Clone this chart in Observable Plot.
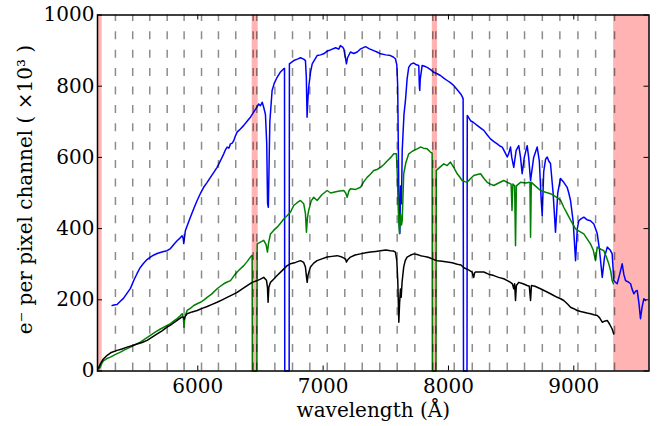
<!DOCTYPE html>
<html><head><meta charset="utf-8">
<script src="https://cdn.jsdelivr.net/npm/d3@7"></script>
<script src="https://cdn.jsdelivr.net/npm/@observablehq/plot@0.6"></script>
<style>body{margin:0;background:#fff}</style>
</head><body><div id="chart"></div>
<script>
const xTicks = [6000, 7000, 8000, 9000];
const yTicks = [0, 200, 400, 600, 800, 1000];
const xLabel = "wavelength (Å)";
const yLabel = "e⁻ per pixel channel ( ×10³ )";
const maskedBands = [[5200, 5237], [6434, 6482], [7871, 7913], [9318, 9600]];
const orderEdges = [5343, 5481, 5617, 5756, 5891, 6030, 6165, 6303, 6442, 6471, 6615, 6756, 6894, 7033, 7173, 7312, 7452, 7591, 7732, 7875, 7899, 8046, 8190, 8328, 8469, 8607, 8749, 8889, 9033, 9174, 9325];

const blue = [[5317,184],[5340,186],[5356,187],[5380,195],[5407,204],[5435,218],[5463,232],[5490,255],[5516,274],[5540,290],[5566,302],[5595,313],[5622,320],[5650,326],[5676,330],[5720,335],[5755,338],[5782,344],[5810,356],[5835,366],[5860,374],[5875,380],[5884,372],[5888,358],[5893,372],[5901,394],[5920,412],[5941,432],[5970,458],[5995,479],[6020,498],[6047,516],[6075,530],[6101,544],[6128,558],[6154,572],[6180,590],[6207,610],[6222,622],[6234,629],[6248,626],[6261,638],[6275,640],[6287,647],[6300,660],[6314,671],[6340,680],[6367,690],[6395,702],[6420,713],[6446,727],[6466,738],[6486,750],[6500,745],[6514,755],[6526,741],[6540,720],[6550,640],[6557,470],[6563,460],[6568,560],[6575,700],[6593,788],[6610,808],[6633,825],[6660,840],[6686,849],[6692,850],[6694,0],[6729,0],[6731,863],[6766,872],[6795,876],[6819,880],[6845,876],[6859,872],[6866,825],[6872,713],[6878,760],[6885,797],[6900,840],[6913,863],[6952,886],[6980,888],[7005,891],[7030,898],[7059,902],[7100,908],[7125,904],[7138,914],[7155,910],[7165,905],[7178,880],[7186,863],[7195,880],[7218,896],[7245,892],[7272,896],[7300,905],[7338,911],[7370,905],[7404,900],[7430,896],[7458,891],[7500,888],[7537,886],[7560,882],[7577,877],[7588,860],[7595,800],[7601,600],[7606,420],[7612,386],[7618,520],[7625,470],[7631,619],[7645,720],[7657,760],[7670,820],[7683,853],[7700,862],[7723,865],[7745,860],[7763,858],[7768,800],[7771,788],[7775,820],[7790,858],[7810,856],[7830,853],[7860,846],[7883,839],[7910,835],[7936,830],[7965,822],[7990,816],[8015,810],[8042,802],[8070,790],[8096,779],[8108,772],[8117,765],[8120,0],[8148,0],[8150,718],[8176,703],[8200,698],[8229,690],[8255,683],[8282,676],[8310,663],[8335,652],[8360,645],[8389,638],[8410,632],[8429,629],[8450,615],[8469,601],[8480,610],[8495,629],[8505,600],[8521,572],[8540,620],[8561,633],[8575,600],[8588,554],[8605,600],[8628,633],[8640,600],[8655,535],[8680,600],[8708,629],[8725,590],[8740,480],[8748,437],[8760,560],[8775,595],[8788,601],[8800,590],[8814,583],[8835,500],[8854,390],[8872,500],[8894,541],[8920,530],[8947,516],[8960,500],[8974,479],[8995,420],[9014,310],[9028,400],[9040,422],[9060,428],[9080,432],[9105,425],[9133,422],[9160,413],[9187,386],[9205,340],[9227,263],[9245,320],[9267,348],[9290,340],[9306,329],[9313,290],[9319,254],[9330,250],[9346,245],[9365,270],[9386,301],[9400,270],[9413,254],[9435,250],[9453,245],[9465,230],[9479,217],[9495,225],[9506,226],[9520,190],[9532,147],[9545,180],[9559,203],[9572,198]];

const green = [[5208,5],[5223,11],[5235,22],[5249,29],[5275,35],[5303,39],[5340,46],[5383,53],[5420,60],[5463,67],[5500,74],[5542,81],[5580,90],[5622,100],[5660,109],[5702,118],[5740,125],[5782,133],[5810,141],[5835,147],[5860,155],[5875,161],[5885,150],[5890,123],[5896,150],[5915,170],[5940,176],[5968,184],[5995,189],[6021,193],[6050,200],[6075,207],[6110,216],[6154,231],[6180,238],[6207,245],[6235,250],[6261,254],[6290,268],[6314,278],[6340,287],[6367,296],[6395,308],[6420,320],[6434,325],[6436,0],[6471,0],[6474,357],[6500,362],[6526,367],[6545,355],[6556,334],[6565,360],[6580,385],[6605,395],[6633,404],[6660,415],[6686,427],[6712,436],[6739,446],[6766,465],[6790,472],[6819,479],[6845,470],[6859,442],[6867,390],[6875,430],[6885,451],[6905,478],[6925,488],[6952,479],[6990,495],[7032,507],[7060,500],[7085,502],[7120,505],[7165,507],[7180,500],[7192,488],[7205,505],[7218,512],[7260,510],[7298,516],[7325,532],[7351,544],[7375,552],[7404,563],[7430,566],[7458,572],[7485,580],[7511,590],[7540,600],[7564,610],[7585,610],[7591,560],[7600,450],[7609,386],[7618,440],[7625,410],[7631,422],[7643,554],[7660,585],[7683,610],[7715,618],[7750,624],[7777,629],[7800,626],[7830,624],[7856,615],[7870,612],[7872,0],[7900,0],[7903,563],[7930,572],[7963,582],[7990,577],[8016,587],[8042,572],[8070,554],[8090,545],[8109,535],[8130,532],[8149,530],[8175,540],[8202,549],[8230,552],[8256,554],[8285,540],[8309,530],[8335,525],[8362,521],[8400,528],[8441,535],[8470,530],[8500,525],[8507,451],[8514,525],[8528,520],[8535,352],[8542,520],[8575,530],[8615,528],[8650,530],[8655,376],[8661,530],[8700,518],[8734,507],[8775,502],[8814,498],[8855,490],[8894,480],[8920,460],[8947,442],[8980,420],[9014,399],[9045,392],[9080,385],[9105,372],[9133,357],[9155,340],[9173,310],[9187,348],[9215,342],[9240,338],[9260,320],[9279,301],[9295,280],[9306,254],[9316,245]];

const black = [[5208,8],[5223,20],[5245,33],[5277,44],[5310,52],[5356,58],[5395,62],[5436,67],[5475,71],[5516,76],[5556,80],[5596,86],[5636,95],[5676,104],[5715,113],[5755,123],[5795,132],[5835,142],[5875,152],[5888,150],[5893,145],[5898,152],[5915,161],[5955,166],[5995,170],[6035,176],[6075,181],[6115,187],[6154,193],[6195,200],[6234,207],[6275,214],[6314,221],[6355,231],[6394,240],[6434,249],[6474,254],[6500,258],[6526,263],[6548,255],[6556,235],[6561,193],[6567,235],[6580,249],[6605,258],[6633,268],[6673,282],[6713,296],[6739,301],[6780,305],[6819,310],[6845,305],[6859,292],[6867,265],[6873,249],[6880,270],[6899,292],[6925,303],[6952,310],[6990,315],[7032,320],[7070,322],[7112,324],[7150,320],[7178,315],[7186,306],[7195,312],[7218,320],[7255,326],[7298,329],[7340,332],[7378,334],[7420,336],[7458,338],[7500,340],[7537,338],[7560,337],[7577,334],[7588,310],[7596,250],[7601,180],[7604,137],[7610,190],[7617,230],[7623,207],[7630,250],[7643,292],[7655,310],[7670,320],[7695,325],[7723,329],[7750,327],[7777,324],[7805,322],[7830,320],[7850,318],[7870,315],[7890,312],[7910,310],[7950,308],[7990,306],[8030,304],[8070,300],[8100,298],[8123,290],[8160,284],[8189,278],[8196,268],[8202,263],[8208,275],[8216,278],[8250,278],[8282,278],[8320,272],[8362,268],[8400,263],[8441,259],[8470,254],[8495,249],[8510,245],[8521,231],[8528,245],[8535,198],[8542,240],[8561,249],[8595,245],[8628,240],[8645,238],[8655,198],[8662,240],[8690,238],[8734,231],[8775,224],[8814,217],[8840,212],[8868,207],[8895,203],[8920,198],[8950,188],[8974,179],[9000,175],[9027,170],[9055,167],[9080,165],[9105,163],[9133,161],[9160,158],[9187,156],[9205,150],[9227,137],[9245,140],[9267,142],[9285,132],[9306,118],[9319,104]];

const W = 659, H = 426, mL = 97, mR = 10.5, mT = 14.5, mB = 55.5;
const innerW = W - mL - mR, innerH = H - mT - mB, tick = 5;
const font = "DejaVu Serif";

const chart = Plot.plot({
  width: W, height: H,
  marginLeft: mL, marginRight: mR, marginTop: mT, marginBottom: mB,
  style: {fontFamily: font, background: "white", color: "black"},
  x: {domain: [5200, 9600]},
  y: {domain: [0, 1000]},
  marks: [
    Plot.rect(maskedBands, {x1: d => d[0], x2: d => d[1], y1: 0, y2: 1000, fill: "#ffb3b3"}),
    Plot.line(blue, {x: d => d[0], y: d => d[1], stroke: "#0000ff", strokeWidth: 1.5}),
    Plot.line(green, {x: d => d[0], y: d => d[1], stroke: "#008000", strokeWidth: 1.5}),
    Plot.line(black, {x: d => d[0], y: d => d[1], stroke: "black", strokeWidth: 1.5}),
    Plot.ruleX(orderEdges, {x: d => d, y1: 0, y2: 1000, stroke: "black", strokeOpacity: 0.45, strokeWidth: 1.5, strokeDasharray: "8,10.4"}),
    Plot.frame({stroke: "black", strokeWidth: 1.5}),
    Plot.tickX(xTicks, {x: d => d, insetTop: innerH - tick, stroke: "black"}),
    Plot.tickX(xTicks, {x: d => d, insetBottom: innerH - tick, stroke: "black"}),
    Plot.tickY(yTicks, {y: d => d, insetRight: innerW - tick, stroke: "black"}),
    Plot.tickY(yTicks, {y: d => d, insetLeft: innerW - tick, stroke: "black"}),
    Plot.axisX({ticks: xTicks, tickSize: 0, tickPadding: 7.5, fontSize: 20, fontFamily: font, tickFormat: d => String(d), label: null}),
    Plot.axisY({ticks: yTicks, tickSize: 0, tickPadding: 3, fontSize: 20, fontFamily: font, tickFormat: d => String(d), label: null}),
    Plot.text([xLabel], {text: d => d, frameAnchor: "bottom", lineAnchor: "middle", dy: 39.5, fontSize: 20, fontFamily: font, fill: "black"})
  ]
});
// rotated y-axis title
d3.select(chart).append("text")
  .attr("transform", `translate(26,${mT + innerH / 2 - 3}) rotate(-90)`)
  .attr("text-anchor", "middle")
  .attr("dy", "0.32em")
  .attr("font-family", font)
  .attr("font-size", 20)
  .attr("fill", "black")
  .text(yLabel);
document.getElementById("chart").appendChild(chart);
</script>
</body></html>
